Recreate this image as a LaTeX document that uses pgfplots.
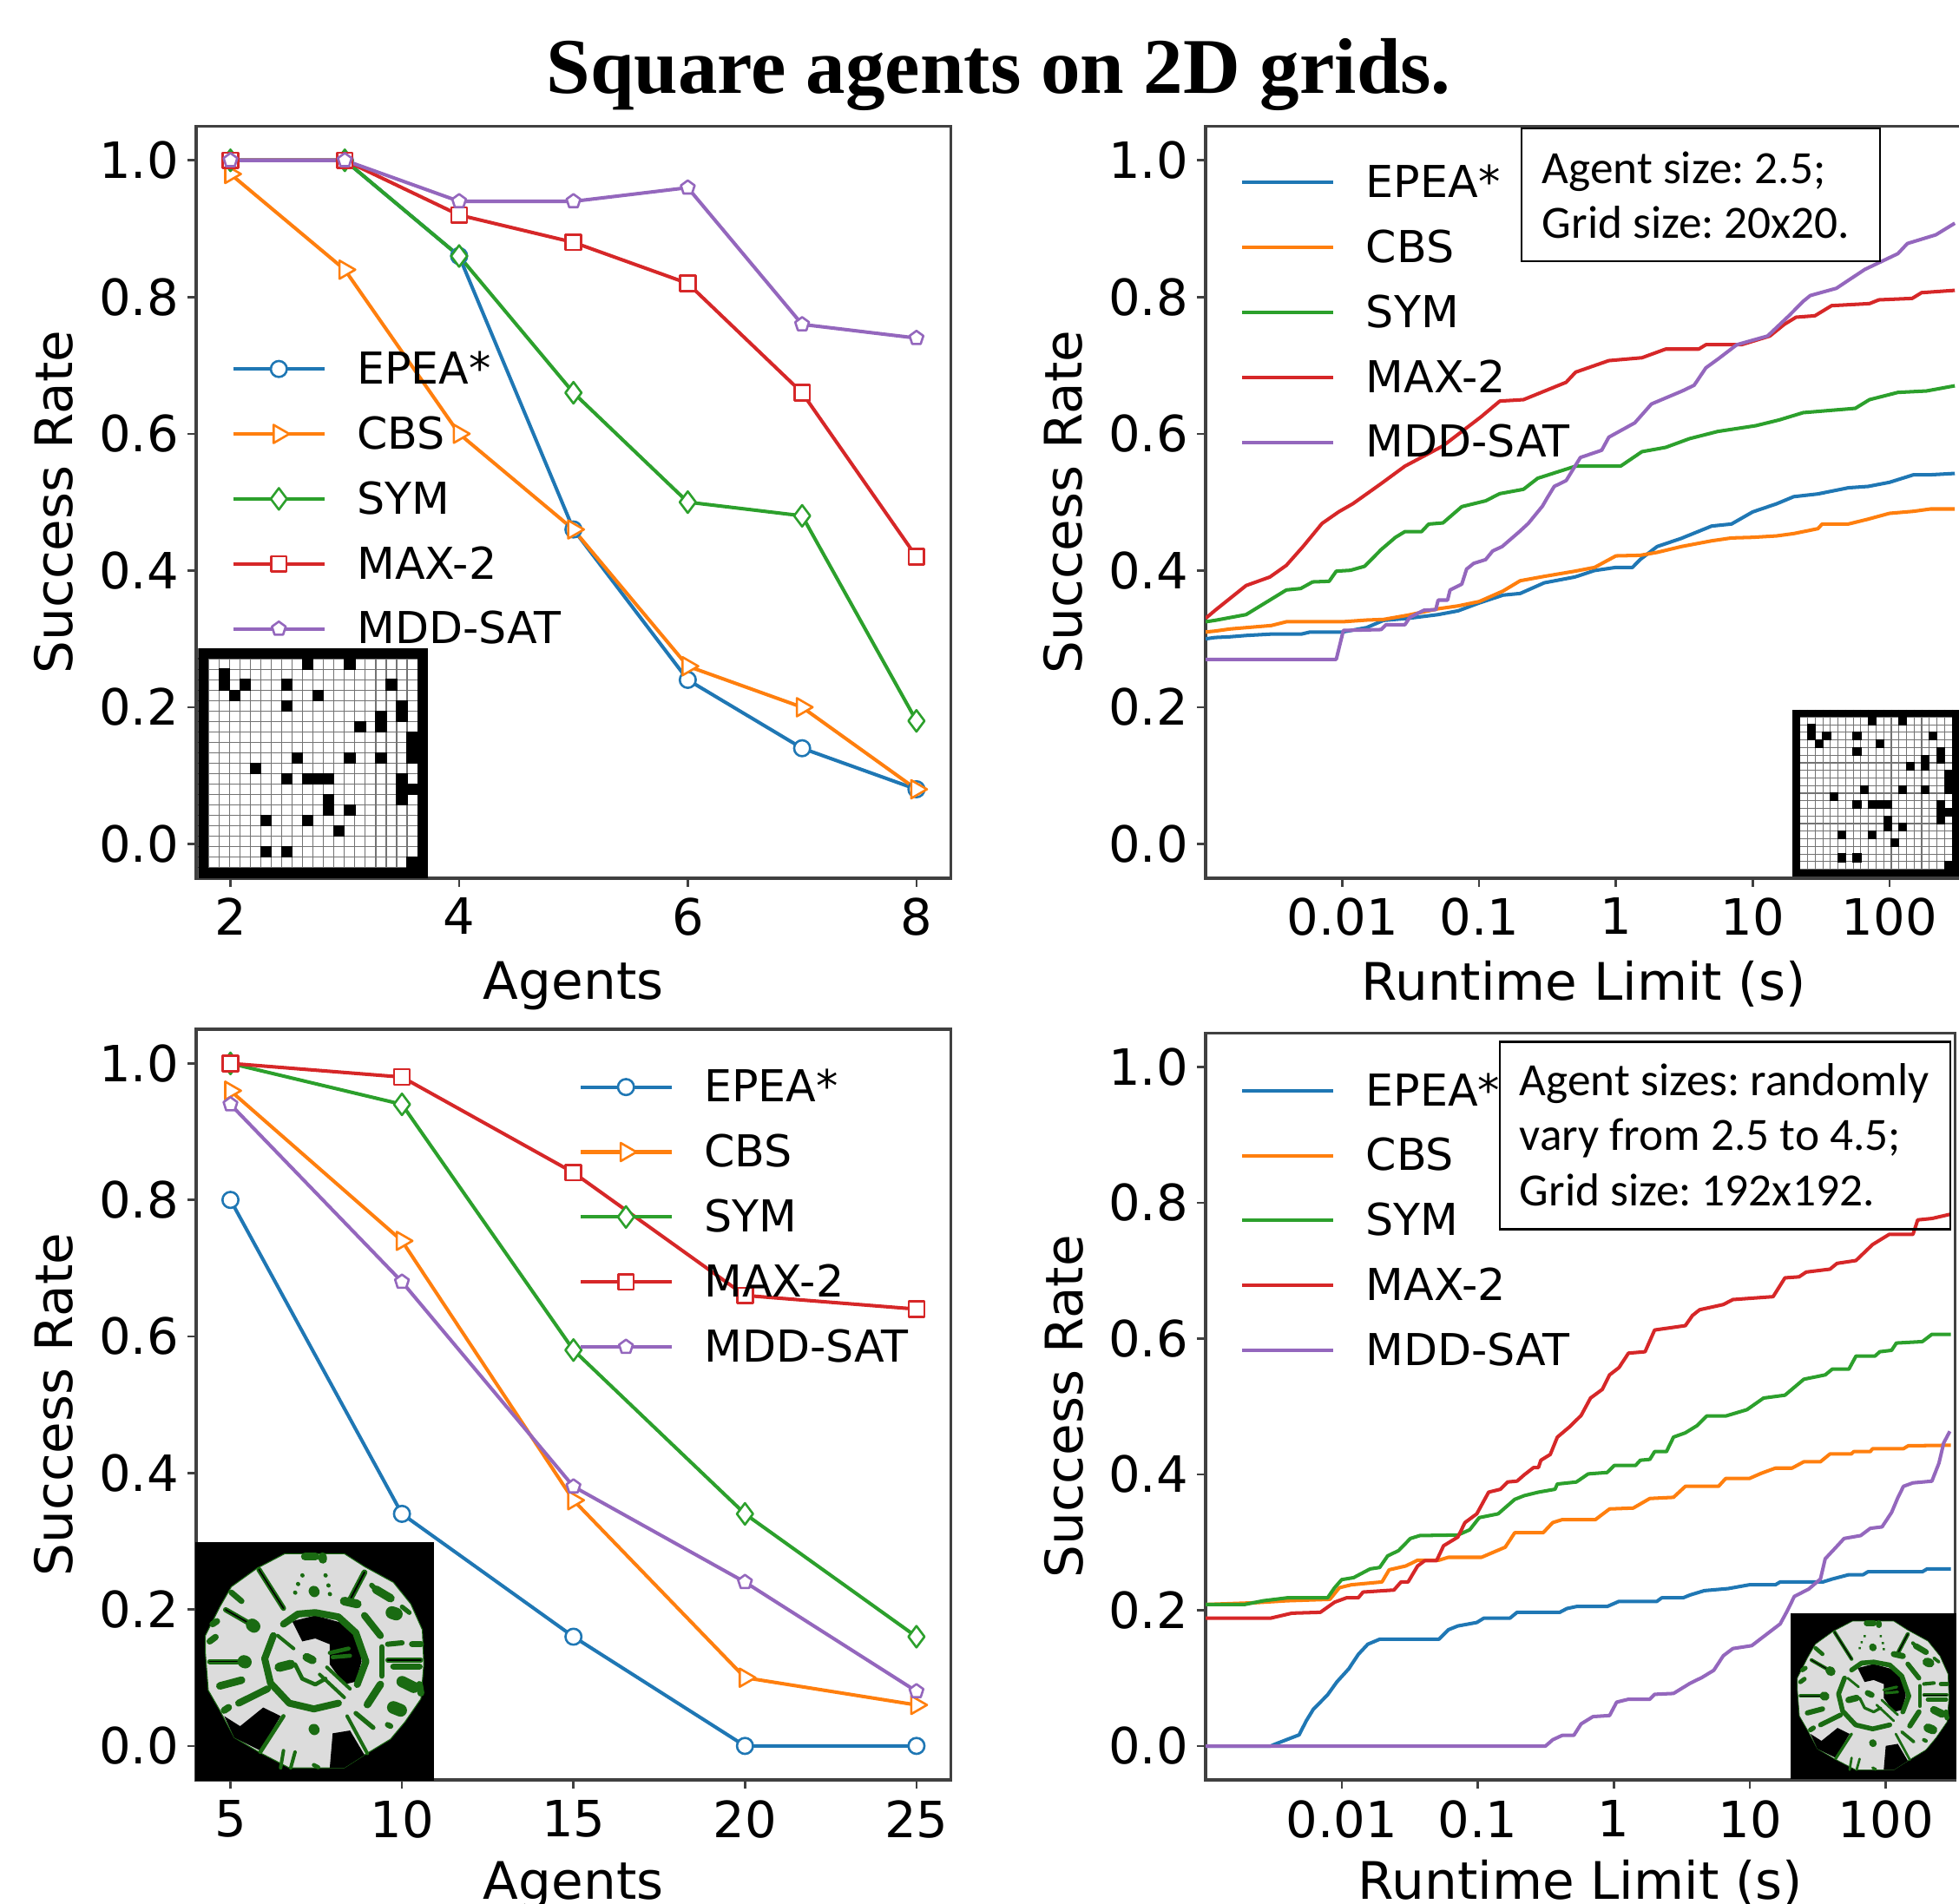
\documentclass[border=0pt]{standalone}
\usepackage{fontspec}
\setmainfont{DejaVu Sans}
\newfontfamily\boxfont{Carlito}
\newfontfamily\titlefont{Liberation Serif}[BoldFont={Liberation Serif Bold}]
\usepackage{pgfplots}
\pgfplotsset{compat=1.18}
\definecolor{c1}{HTML}{1F77B4}
\definecolor{c2}{HTML}{FF7F0E}
\definecolor{c3}{HTML}{2CA02C}
\definecolor{c4}{HTML}{D62728}
\definecolor{c5}{HTML}{9467BD}
\definecolor{mapgray}{HTML}{DCDCDC}
\definecolor{mapgreen}{HTML}{1A6B12}
\pgfplotsset{
  base/.style={
    scale only axis,
    clip=true,
    xtick pos=bottom, ytick pos=left,
    tick align=outside, major tick length=3.5pt,
    tick style={line width=0.9pt,color=black!75},
    axis line style={line width=1.2pt,color=black!75},
    ymin=-0.05, ymax=1.05,
    ytick={0,0.2,0.4,0.6,0.8,1.0},
    yticklabels={0.0,0.2,0.4,0.6,0.8,1.0},
    /pgf/number format/assume math mode=true,
    tick label style={font=\fontsize{20}{24}\selectfont},
    xticklabel shift=1pt,
    label style={font=\fontsize{20.7}{24}\selectfont},
    ylabel={Success Rate},
    y label style={at={(axis description cs:-0.189,0.5)},anchor=center},
    legend cell align=left,
    legend image code/.code={\draw[mark repeat=2,mark phase=2,yshift=1pt,##1] plot coordinates {(0pt,0pt)(18.2pt,0pt)(36.5pt,0pt)};\path[draw=none,fill=none] (0pt,1pt) -- (49.5pt,1pt);},
  },
  leg/.style={legend style={at={#1},anchor=north west,draw=none,fill=none,inner sep=0pt,outer sep=0pt,
     font=\fontsize{17.6}{20}\selectfont,row sep=12pt,
     nodes={inner sep=0pt,outer sep=0pt,text height=12pt,text depth=2pt}}},
  mk/.style={line width=1.4pt,line join=round},
  mO/.style={mk,mark=*,mark size=3.2pt,mark options={solid,fill=white,line width=0.9pt}},
  mT/.style={mk,mark=triangle*,mark size=4.2pt,mark options={solid,fill=white,line width=0.9pt,rotate=-90}},
  mD/.style={mk,mark=diamond*,mark size=4.3pt,mark options={solid,fill=white,line width=0.9pt}},
  mS/.style={mk,mark=square*,mark size=3.1pt,mark options={solid,fill=white,line width=0.9pt}},
  mP/.style={mk,mark=pentagon*,mark size=2.9pt,mark options={solid,fill=white,line width=0.9pt}},
  lc/.style={line width=1.4pt,no markers,line join=round},
  gridax/.style={scale only axis,width=#1,height=#1,xmin=-1,xmax=21,ymin=-1,ymax=21,y dir=reverse,
     xtick={0,...,20},ytick={0,...,20},xticklabels={},yticklabels={},major tick length=0pt,
     grid=major,grid style={black!55,line width=0.4pt},axis line style={draw=none},
     axis background/.style={fill=white}},
  mapax/.style={scale only axis,width=#1,height=#1,xmin=15,xmax=840,ymin=15,ymax=845,y dir=reverse,
     hide axis,axis background/.style={fill=black}},
}
\newcommand{\gridcells}[2]{% line width of border, half cell
  \addplot[black,line width=#1,mark=none] coordinates {(-0.5,-0.5)(20.5,-0.5)(20.5,20.5)(-0.5,20.5)} --cycle;
  \addplot[only marks,mark=square*,mark size=#2,mark options={draw=none,fill=black}] coordinates {
   (9.5,0.5)(13.5,0.5)(1.5,1.5)(1.5,2.5)(3.5,2.5)(2.5,3.5)(7.5,2.5)(7.5,4.5)(10.5,3.5)(17.5,2.5)
   (18.5,4.5)(18.5,5.5)(16.5,5.5)(16.5,6.5)(14.5,6.5)(19.5,7.5)(19.5,8.5)(19.5,9.5)(8.5,9.5)(13.5,9.5)
   (16.5,9.5)(4.5,10.5)(7.5,11.5)(9.5,11.5)(10.5,11.5)(11.5,11.5)(18.5,11.5)(18.5,12.5)(18.5,13.5)(19.5,12.5)
   (11.5,13.5)(11.5,14.5)(13.5,14.5)(5.5,15.5)(9.5,15.5)(12.5,16.5)(5.5,18.5)(7.5,18.5)(19.5,19.5)};
}
\newcommand{\gs}[2]{\addplot[mapgreen,line cap=round,line join=round,line width=(#1+4)*\mapu] coordinates {#2};}
\newcommand{\gk}[2]{\addplot[mapgreen,line cap=round,line width=(#1+8)*\mapu] coordinates {#2};\addplot[black,line cap=round,line width=#1*\mapu*0.5] coordinates {#2};}
\newcommand{\bl}[1]{\addplot[fill=black,draw=none] coordinates {#1} --cycle;}
\newcommand{\mapbody}{%
  \addplot[fill=mapgray,draw=mapgreen,line width=3*\mapu] coordinates {(325,55)(530,55)(600,100)(700,155)(760,230)(800,320)(805,440)(795,560)(740,640)(690,700)(600,755)(530,800)(340,800)(235,745)(150,695)(100,600)(60,530)(50,400)(50,340)(100,240)(140,170)(230,105)} --cycle;
  \bl{(115,620)(170,655)(250,590)(310,620)(240,740)(150,695)}
  \bl{(480,800)(490,680)(550,670)(600,755)(530,800)}
  \bl{(350,290)(430,270)(520,295)(580,350)(590,430)(570,500)(530,510)(480,440)(480,370)(430,350)(385,360)}
  \gs{20}{(320,300)(370,265)(430,260)(510,275)(570,330)(605,430)(575,510)}
  \gs{20}{(285,340)(255,420)(275,505)(340,575)(425,595)(510,575)}
  \gs{8}{(300,340)(355,385)}
  \gs{10}{(360,440)(385,490)(430,510)(465,490)}
  \gs{10}{(480,400)(545,385)}
  \gs{10}{(490,415)(550,410)}
  \gs{25}{(400,415)(420,425)}
  \gs{28}{(305,450)(345,440)}
  \gs{8}{(445,475)(530,555)}
  \gs{8}{(470,450)(550,525)}
  \gk{10}{(235,110)(320,245)}
  \gk{12}{(600,120)(545,225)}
  \gs{26}{(530,220)(575,230)}
  \gk{10}{(120,250)(215,305)}
  \gs{40}{(212,303)(218,308)}
  \gk{10}{(65,430)(185,430)}
  \gs{40}{(183,430)(188,432)}
  \gs{16}{(140,190)(175,220)}
  \gs{22}{(100,515)(175,495)}
  \gs{20}{(165,575)(265,525)}
  \gs{20}{(600,270)(655,340)}
  \gs{22}{(610,580)(655,510)}
  \gs{16}{(660,380)(660,480)}
  \gs{14}{(680,370)(730,365)}
  \gk{8}{(680,425)(795,425)}
  \gs{18}{(700,447)(790,447)}
  \gs{35}{(730,500)(770,520)}
  \gs{20}{(790,510)(795,540)}
  \gs{40}{(700,590)(725,600)}
  \gs{18}{(765,370)(795,370)}
  \gs{25}{(640,180)(690,210)}
  \gs{14}{(625,165)(650,190)}
  \gs{40}{(695,260)(710,265)}
  \gs{12}{(730,240)(755,260)}
  \gs{15}{(680,650)(690,655)}
  \gs{8}{(540,620)(610,750)}
  \gs{12}{(570,610)(630,660)}
  \gs{10}{(320,620)(240,745)}
  \gs{8}{(320,740)(310,800)}
  \gs{8}{(360,745)(345,800)}
  \gs{32}{(425,665)(427,668)}
  \gs{32}{(425,185)(427,188)}
  \gs{25}{(395,65)(430,65)}
  \gs{25}{(455,65)(456,75)}
  \gs{10}{(385,130)(386,131)}
  \gs{10}{(465,130)(466,131)}
  \gs{10}{(370,160)(371,161)}
  \gs{10}{(475,165)(476,166)}
  \gs{10}{(360,190)(361,191)}
  \gs{10}{(480,195)(481,196)}
  \gs{18}{(75,300)(90,290)}
  \gs{18}{(65,360)(85,345)}
  \gs{20}{(115,600)(130,590)}
  \gs{10}{(425,790)(440,798)}
}
\begin{document}
\begin{tikzpicture}
\useasboundingbox (0pt,0pt) rectangle (784pt,762pt);

\node[anchor=base,font=\titlefont\bfseries\fontsize{31.6}{36}\selectfont] at (399.75pt,724.5pt) {Square agents on 2D grids.};

% ---------- top left
\begin{axis}[base,at={(78.5pt,410.5pt)},anchor=south west,width=302pt,height=301pt,
  xmin=1.7,xmax=8.3,xtick={2,4,6,8},xlabel={Agents},
  x label style={at={(axis description cs:0.5,-0.143)},anchor=center},
  leg={(0.047,0.697)}]
\addplot[mO,c1] coordinates {(2,1.0)(3,1.0)(4,0.86)(5,0.46)(6,0.24)(7,0.14)(8,0.08)};
\addlegendentry{EPEA*}
\addplot[mT,c2] coordinates {(2,0.98)(3,0.84)(4,0.60)(5,0.46)(6,0.26)(7,0.20)(8,0.08)};
\addlegendentry{CBS}
\addplot[mD,c3] coordinates {(2,1.0)(3,1.0)(4,0.86)(5,0.66)(6,0.50)(7,0.48)(8,0.18)};
\addlegendentry{SYM}
\addplot[mS,c4] coordinates {(2,1.0)(3,1.0)(4,0.92)(5,0.88)(6,0.82)(7,0.66)(8,0.42)};
\addlegendentry{MAX-2}
\addplot[mP,c5] coordinates {(2,1.0)(3,1.0)(4,0.94)(5,0.94)(6,0.96)(7,0.76)(8,0.74)};
\addlegendentry{MDD-SAT}
\end{axis}

% ---------- bottom left
\begin{axis}[base,at={(78.5pt,49.5pt)},anchor=south west,width=302pt,height=300.5pt,
  xmin=4,xmax=26,xtick={5,10,15,20,25},xlabel={Agents},
  x label style={at={(axis description cs:0.5,-0.141)},anchor=center},
  leg={(0.507,0.943)}]
\addplot[mO,c1] coordinates {(5,0.80)(10,0.34)(15,0.16)(20,0.0)(25,0.0)};
\addlegendentry{EPEA*}
\addplot[mT,c2] coordinates {(5,0.96)(10,0.74)(15,0.36)(20,0.10)(25,0.06)};
\addlegendentry{CBS}
\addplot[mD,c3] coordinates {(5,1.0)(10,0.94)(15,0.58)(20,0.34)(25,0.16)};
\addlegendentry{SYM}
\addplot[mS,c4] coordinates {(5,1.0)(10,0.98)(15,0.84)(20,0.66)(25,0.64)};
\addlegendentry{MAX-2}
\addplot[mP,c5] coordinates {(5,0.94)(10,0.68)(15,0.38)(20,0.24)(25,0.08)};
\addlegendentry{MDD-SAT}
\end{axis}

% ---------- top right (x = log10 of runtime limit)
\begin{axis}[base,at={(482.5pt,410.5pt)},anchor=south west,width=302.5pt,height=301pt,
  xmin=-3,xmax=2.527,xtick={-2,-1,0,1,2},xticklabels={0.01,0.1,1,10,100},xlabel={Runtime Limit (s)},
  x label style={at={(axis description cs:0.5,-0.141)},anchor=center},
  leg={(0.0463,0.945)}]
\addplot[lc,c1] coordinates {(-3.00,.300)(-2.93,.302)(-2.825,.303)(-2.70,.305)(-2.52,.307)(-2.30,.307)(-2.236,.310)(-2.00,.310)(-1.823,.3165)(-1.70,.327)(-1.52,.330)(-1.30,.3355)(-1.154,.341)(-1.00,.3525)(-.825,.364)(-.70,.3664)(-.524,.382)(-.30,.3905)(-.156,.400)(0,.4045)(.121,.4045)(.177,.416)(.301,.435)(.478,.447)(.70,.465)(.845,.468)(1.00,.4857)(1.175,.4976)(1.30,.508)(1.477,.512)(1.70,.521)(1.844,.523)(2.00,.529)(2.176,.540)(2.30,.540)(2.478,.542)};
\addlegendentry{EPEA*}
\addplot[lc,c2] coordinates {(-3.00,.310)(-2.93,.3114)(-2.825,.3144)(-2.70,.3165)(-2.52,.3195)(-2.41,.325)(-2.30,.325)(-2.00,.325)(-1.823,.3275)(-1.70,.3284)(-1.52,.3347)(-1.30,.344)(-1.154,.3482)(-1.00,.3546)(-.825,.370)(-.70,.385)(-.524,.3914)(-.30,.399)(-.156,.4045)(0,.4214)(.177,.4222)(.301,.4265)(.478,.435)(.70,.4434)(.845,.4476)(1.0,.4485)(1.175,.4506)(1.30,.454)(1.477,.4612)(1.508,.468)(1.70,.468)(1.844,.4751)(2.0,.4836)(2.176,.4866)(2.30,.49)(2.478,.49)};
\addlegendentry{CBS}
\addplot[lc,c3] coordinates {(-3,.325)(-2.93,.3271)(-2.704,.3355)(-2.548,.3546)(-2.41,.3715)(-2.305,.3736)(-2.218,.3833)(-2.097,.3842)(-2.045,.399)(-1.941,.4003)(-1.837,.4062)(-1.716,.4307)(-1.612,.4485)(-1.543,.4569)(-1.421,.4569)(-1.369,.4679)(-1.265,.4696)(-1.127,.4934)(-.953,.5019)(-.849,.5124)(-.676,.5188)(-.572,.5349)(-.295,.5526)(.034,.5526)(.19,.5738)(.364,.5801)(.537,.5928)(.745,.6034)(1.022,.6118)(1.195,.6203)(1.369,.6309)(1.75,.6372)(1.854,.6499)(2.062,.6605)(2.27,.6626)(2.478,.6702)};
\addlegendentry{SYM}
\addplot[lc,c4] coordinates {(-3,.33)(-2.929,.342)(-2.704,.378)(-2.53,.3905)(-2.41,.4075)(-2.288,.435)(-2.149,.4688)(-2.028,.4857)(-1.924,.4976)(-1.716,.5272)(-1.543,.5526)(-1.265,.5822)(-.988,.6245)(-.849,.6478)(-.676,.6499)(-.364,.6753)(-.295,.6901)(-.052,.707)(.19,.7112)(.364,.7239)(.606,.7239)(.658,.7303)(.918,.7303)(1.126,.743)(1.23,.7599)(1.317,.7705)(1.455,.7726)(1.577,.7874)(1.854,.7904)(1.923,.7959)(2.166,.798)(2.235,.8064)(2.478,.8098)};
\addlegendentry{MAX-2}
\addplot[lc,c5] coordinates {(-3,.27)(-2.045,.27)(-1.993,.3123)(-1.716,.3136)(-1.681,.3207)(-1.543,.3207)(-1.508,.3313)(-1.404,.3419)(-1.317,.3428)(-1.30,.3567)(-1.231,.3567)(-1.213,.3715)(-1.127,.38)(-1.092,.402)(-1.04,.4104)(-.953,.4159)(-.901,.4286)(-.832,.435)(-.71,.4561)(-.641,.4688)(-.537,.4942)(-.503,.506)(-.451,.523)(-.364,.5315)(-.26,.5653)(-.104,.5759)(-.052,.595)(.138,.616)(.26,.6436)(.485,.6626)(.572,.671)(.658,.6965)(.745,.7091)(.884,.7303)(1.109,.743)(1.265,.7726)(1.369,.7937)(1.421,.8022)(1.612,.8128)(1.819,.8403)(2.062,.8635)(2.131,.8783)(2.339,.891)(2.478,.908)};
\addlegendentry{MDD-SAT}
\end{axis}

% ---------- bottom right (x = log10 of runtime limit)
\begin{axis}[base,at={(482.5pt,49.5pt)},anchor=south west,width=300pt,height=299pt,
  xmin=-3,xmax=2.51,xtick={-2,-1,0,1,2},xticklabels={0.01,0.1,1,10,100},xlabel={Runtime Limit (s)},
  x label style={at={(axis description cs:0.5,-0.138)},anchor=center},
  leg={(0.0465,0.943)}]
\addplot[lc,c1] coordinates {(-3,0)(-2.522,0)(-2.488,.003)(-2.313,.0165)(-2.261,.037)(-2.209,.054)(-2.104,.0754)(-2.035,.0946)(-1.948,.1138)(-1.878,.135)(-1.808,.15)(-1.721,.1573)(-1.286,.1573)(-1.216,.1713)(-1.146,.1769)(-1.007,.182)(-.955,.1884)(-.763,.1884)(-.711,.197)(-.397,.197)(-.345,.2025)(-.275,.2055)(-.049,.2055)(.038,.2131)(.317,.2131)(.352,.2183)(.509,.2183)(.561,.2225)(.666,.2289)(.84,.2319)(.996,.2375)(1.188,.2375)(1.223,.2417)(1.537,.2417)(1.606,.246)(1.728,.2524)(1.833,.2524)(1.868,.2567)(2.268,.2567)(2.303,.2609)(2.477,.2609)};
\addlegendentry{EPEA*}
\addplot[lc,c2] coordinates {(-3,.2085)(-2.644,.211)(-2.40,.214)(-2.087,.2161)(-2.017,.2332)(-1.93,.2375)(-1.704,.2417)(-1.651,.2596)(-1.529,.2652)(-1.442,.2737)(-1.286,.2737)(-1.216,.278)(-.972,.278)(-.798,.2929)(-.728,.3142)(-.519,.3142)(-.449,.3291)(-.38,.3334)(-.136,.3334)(-.031,.3492)(.143,.3505)(.265,.3646)(.439,.3663)(.526,.3825)(.77,.3825)(.822,.394)(.996,.394)(1.084,.4017)(1.188,.4093)(1.31,.4093)(1.397,.4187)(1.519,.4187)(1.589,.4302)(1.746,.4302)(1.763,.4336)(1.885,.4336)(1.902,.4379)(2.129,.4379)(2.164,.4422)(2.477,.443)};
\addlegendentry{CBS}
\addplot[lc,c3] coordinates {(-3,.2085)(-2.714,.2085)(-2.575,.214)(-2.40,.2183)(-2.104,.2183)(-2.052,.2332)(-2.0,.2451)(-1.913,.248)(-1.791,.2609)(-1.721,.263)(-1.662,.2801)(-1.582,.2878)(-1.495,.3057)(-1.425,.31)(-1.146,.3108)(-1.059,.3185)(-.989,.3364)(-.85,.342)(-.728,.3633)(-.658,.3688)(-.554,.3739)(-.432,.3782)(-.415,.3859)(-.275,.3889)(-.188,.4008)(-.049,.4029)(.004,.4132)(.16,.4132)(.195,.4209)(.265,.4222)(.30,.4336)(.387,.4336)(.439,.455)(.526,.4613)(.613,.472)(.683,.486)(.822,.486)(.979,.4954)(1.101,.5125)(1.258,.5167)(1.397,.5402)(1.554,.5466)(1.606,.5551)(1.728,.5551)(1.78,.5743)(1.92,.5743)(1.955,.5807)(2.042,.5828)(2.077,.5935)(2.268,.5956)(2.338,.6063)(2.477,.6063)};
\addlegendentry{SYM}
\addplot[lc,c4] coordinates {(-3,.1884)(-2.522,.1884)(-2.366,.1957)(-2.157,.197)(-2.052,.2119)(-1.965,.2183)(-1.878,.2183)(-1.843,.2268)(-1.616,.2298)(-1.564,.2417)(-1.512,.2417)(-1.442,.2652)(-1.39,.2729)(-1.303,.2729)(-1.251,.295)(-1.146,.3078)(-1.094,.3291)(-1.007,.342)(-.92,.3739)(-.833,.3782)(-.78,.3889)(-.711,.3902)(-.658,.3995)(-.589,.4102)(-.554,.4102)(-.536,.4209)(-.467,.4294)(-.415,.4549)(-.327,.4698)(-.24,.4869)(-.171,.5125)(-.084,.5253)(-.031,.5466)(.038,.5573)(.108,.5786)(.23,.5807)(.30,.6127)(.526,.6191)(.578,.634)(.631,.6425)(.805,.6502)(.875,.6575)(1.171,.6618)(1.258,.6895)(1.362,.691)(1.414,.698)(1.589,.7023)(1.641,.7108)(1.78,.715)(1.902,.7385)(2.024,.7535)(2.199,.7535)(2.234,.7748)(2.338,.7769)(2.477,.7833)};
\addlegendentry{MAX-2}
\addplot[lc,c5] coordinates {(-3,0)(-.502,0)(-.449,.0093)(-.38,.0157)(-.293,.016)(-.24,.0327)(-.153,.0434)(-.031,.045)(.021,.0647)(.108,.069)(.265,.069)(.30,.0762)(.439,.0775)(.561,.0925)(.648,.101)(.735,.1116)(.805,.133)(.875,.1436)(1.014,.1479)(1.153,.1692)(1.223,.1799)(1.275,.1991)(1.327,.2204)(1.432,.2311)(1.519,.246)(1.554,.2758)(1.624,.2908)(1.693,.3057)(1.815,.31)(1.885,.3206)(1.972,.3228)(2.042,.3441)(2.087,.3654)(2.129,.3825)(2.199,.3876)(2.338,.3901)(2.39,.4166)(2.425,.4464)(2.47,.4635)};
\addlegendentry{MDD-SAT}
\end{axis}

% ---------- insets
\begin{axis}[gridax=92pt,at={(79.3pt,410.5pt)},anchor=south west]
\gridcells{4.18pt}{2.12pt}
\end{axis}
\begin{axis}[gridax=67pt,at={(717.3pt,411pt)},anchor=south west]
\gridcells{3.05pt}{1.55pt}
\end{axis}
\def\mapu{0.1158pt}
\begin{axis}[mapax=95.5pt,at={(78.15pt,49.2pt)},anchor=south west]
\mapbody
\end{axis}
\def\mapu{0.0804pt}
\begin{axis}[mapax=66.3pt,at={(716.5pt,50pt)},anchor=south west]
\mapbody
\end{axis}

% ---------- text boxes
\draw[black,line width=0.8pt] (609pt,710.5pt) rectangle (752.5pt,657.5pt);
\node[anchor=base west,inner sep=0pt,font=\boxfont\frenchspacing\fontsize{18.5}{22}\selectfont] at (617pt,688.5pt) {Agent size: 2.5;};
\node[anchor=base west,inner sep=0pt,font=\boxfont\frenchspacing\fontsize{18.5}{22}\selectfont] at (617pt,666.5pt) {Grid size: 20x20.};
\draw[black,line width=0.8pt] (600.3pt,345pt) rectangle (780.5pt,270pt);
\node[anchor=base west,inner sep=0pt,font=\boxfont\frenchspacing\fontsize{18.5}{22}\selectfont] at (608pt,323.5pt) {Agent sizes: randomly};
\node[anchor=base west,inner sep=0pt,font=\boxfont\frenchspacing\fontsize{18.5}{22}\selectfont] at (608pt,301.5pt) {vary from 2.5 to 4.5;};
\node[anchor=base west,inner sep=0pt,font=\boxfont\frenchspacing\fontsize{18.5}{22}\selectfont] at (608pt,279.5pt) {Grid size: 192x192.};
\end{tikzpicture}
\end{document}
